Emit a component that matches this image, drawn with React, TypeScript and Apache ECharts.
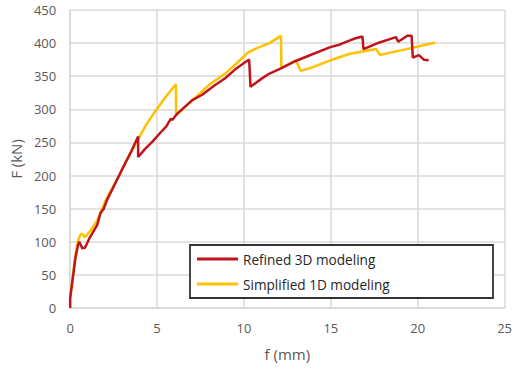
import React, { useEffect, useRef } from "react";
import * as echarts from "echarts";

const seriesNames = ["Refined 3D modeling", "Simplified 1D modeling"];

const refinedX = [0, 0, 0.15, 0.3, 0.45, 0.52, 0.7, 0.85, 1.1, 1.55, 1.74, 1.93, 2.1, 2.68, 3.0, 3.5, 3.91, 3.91, 4.3, 4.76, 5.2, 5.52, 5.8, 5.88, 6.05, 6.18, 7.03, 7.6, 8.3, 8.92, 9.48, 10.0, 10.3, 10.38, 11.0, 11.47, 12.13, 12.98, 13.83, 14.97, 15.53, 16.1, 16.38, 16.82, 16.88, 17.8, 18.75, 18.88, 19.4, 19.65, 19.72, 20.07, 20.35, 20.63];
const refinedY = [0, 15, 45, 75, 95, 100, 90, 91, 105, 125, 143, 150, 162, 193, 210, 236, 259, 228, 240, 252, 265, 274, 286, 284, 290, 294, 314, 322, 336, 347, 360, 370, 375, 334, 346, 354, 362, 373, 382, 394, 398, 404, 407, 410, 391, 401, 409, 402, 411, 411, 378, 382, 375, 374];

const simplifiedX = [0, 0.15, 0.3, 0.45, 0.6, 0.7, 0.85, 1.17, 1.55, 1.83, 2.1, 2.68, 3.0, 3.5, 3.91, 4.4, 4.95, 5.5, 6.08, 6.1, 7.03, 8.0, 8.92, 9.6, 10.24, 10.71, 11.0, 11.47, 12.13, 12.15, 12.98, 13.27, 14.0, 14.78, 15.53, 16.1, 17.0, 17.6, 17.84, 18.5, 19.3, 20.2, 21.0];
const simplifiedY = [16, 48, 80, 102, 111, 112, 107, 117, 132, 150, 166, 193, 210, 235, 255, 278, 299, 319, 338, 291, 314, 337, 354, 370, 386, 392, 395, 400, 411, 362, 374, 358, 364, 372, 379, 384, 388, 391, 382, 386, 390.5, 396, 400.5];

const xMin = 0, xMax = 25, xStep = 5;
const yMin = 0, yMax = 450, yStep = 50;

const colors = ["#C0141C", "#FFC000"];
const font = "'Open Sans', Lato, sans-serif";

function pairs(xs: number[], ys: number[]) {
  return xs.map((x, i) => [x, ys[i]]);
}

export default function App() {
  const ref = useRef<HTMLDivElement>(null);
  useEffect(() => {
    if (!ref.current) return;
    const chart = echarts.init(ref.current, null, { renderer: "svg" });
    const gridColor = "#D9D9D9";
    chart.setOption({
      animation: false,
      backgroundColor: "#ffffff",
      grid: { left: 66, right: 8, top: 10, bottom: 61, containLabel: false },
      xAxis: {
        type: "value",
        min: xMin,
        max: xMax,
        interval: xStep,
        name: "f (mm)",
        nameLocation: "middle",
        nameGap: 38,
        nameTextStyle: { color: "#595959", fontSize: 15, fontFamily: font },
        axisLine: { show: true, lineStyle: { color: gridColor, width: 1.5 } },
        axisTick: { show: false },
        axisLabel: { color: "#595959", fontSize: 13, fontFamily: font, margin: 13 },
        splitLine: { show: true, lineStyle: { color: gridColor, width: 1.5 } },
      },
      yAxis: {
        type: "value",
        min: yMin,
        max: yMax,
        interval: yStep,
        name: "F (kN)",
        nameLocation: "middle",
        nameGap: 42,
        nameTextStyle: { color: "#595959", fontSize: 15, fontFamily: font },
        axisLine: { show: true, lineStyle: { color: gridColor, width: 1.5 } },
        axisTick: { show: false },
        axisLabel: { color: "#595959", fontSize: 13, fontFamily: font, margin: 14 },
        splitLine: { show: true, lineStyle: { color: gridColor, width: 1.5 } },
      },
      graphic: [
        {
          type: "rect",
          z: 5,
          shape: { x: 190, y: 245, width: 303, height: 53 },
          style: { fill: "#ffffff", stroke: "#333333", lineWidth: 1.8 },
        },
      ],
      legend: {
        z: 10,
        orient: "vertical",
        left: 190,
        top: 245,
        padding: [6, 6, 6, 7],
        icon: "rect",
        itemWidth: 41,
        itemHeight: 3,
        itemGap: 9,
        textStyle: { color: "#262626", fontSize: 13.6, fontFamily: font, lineHeight: 16 },
        data: seriesNames,
      },
      series: [
        {
          name: seriesNames[0],
          type: "line",
          symbol: "none",
          data: pairs(refinedX, refinedY),
          lineStyle: { color: colors[0], width: 2.5 },
          itemStyle: { color: colors[0] },
          z: 3,
        },
        {
          name: seriesNames[1],
          type: "line",
          symbol: "none",
          data: pairs(simplifiedX, simplifiedY),
          lineStyle: { color: colors[1], width: 2.5 },
          itemStyle: { color: colors[1] },
          z: 2,
        },
      ],
    });
    return () => chart.dispose();
  }, []);
  return (
    <div
      ref={ref}
      style={{ position: "absolute", left: 0, top: 0, width: 515, height: 369 }}
    />
  );
}
